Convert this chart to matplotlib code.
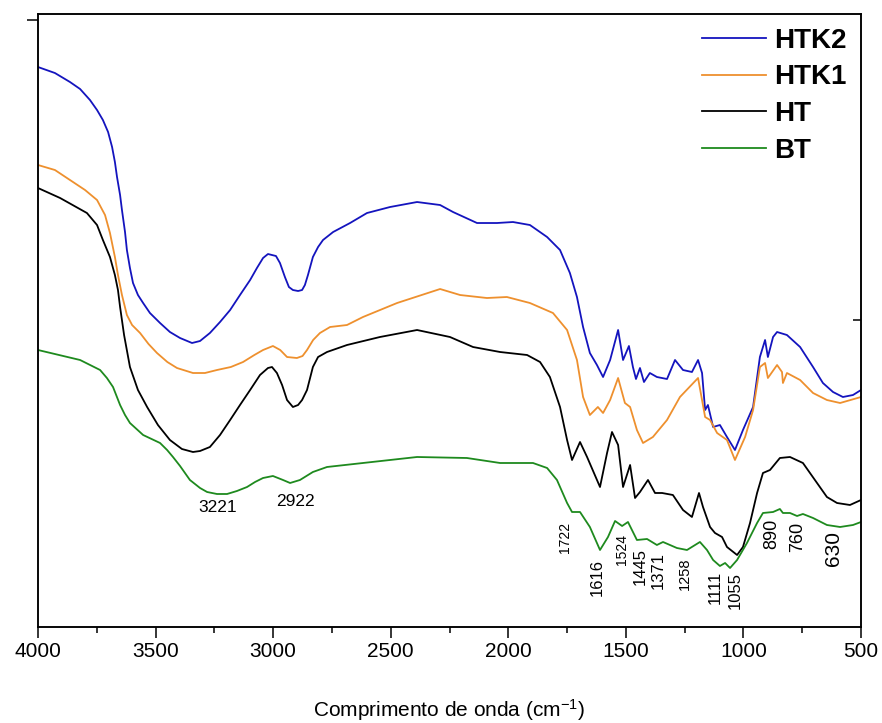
import matplotlib
matplotlib.use("Agg")
import matplotlib.pyplot as plt
from matplotlib.ticker import MultipleLocator

plt.rcParams['font.family'] = ['Liberation Sans', 'DejaVu Sans']
plt.rcParams['mathtext.fontset'] = 'custom'
plt.rcParams['mathtext.rm'] = 'Liberation Sans'
plt.rcParams['mathtext.it'] = 'Liberation Sans:italic'

# FTIR spectra, transmittance in arbitrary units
htk2_wn = [4000, 3928, 3864, 3821, 3779, 3749, 3724, 3702, 3685, 3673, 3664, 3651, 3643, 3630,
           3622, 3609, 3596, 3575, 3553, 3524, 3481, 3439, 3396, 3345, 3311, 3269, 3226, 3183,
           3141, 3098, 3069, 3043, 3022, 3005, 2988, 2971, 2950, 2933, 2916, 2894, 2877, 2865,
           2852, 2831, 2809, 2788, 2745, 2673, 2601, 2503, 2388, 2290, 2235, 2133, 2048, 1980,
           1908, 1835, 1780, 1738, 1708, 1682, 1653, 1623, 1597, 1567, 1533, 1512, 1487, 1470,
           1457, 1440, 1423, 1398, 1368, 1325, 1291, 1257, 1219, 1193, 1176, 1163, 1151, 1129,
           1100, 1070, 1036, 1002, 959, 930, 908, 896, 874, 857, 815, 759, 704, 662, 619, 577,
           534, 500]
htk2_t = [55.3, 54.7, 53.8, 53.1, 52.0, 51.0, 50.0, 48.8, 47.3, 45.8, 44.3, 42.5, 41.0, 38.8,
          37.0, 35.2, 33.7, 32.5, 31.7, 30.7, 29.7, 28.8, 28.2, 27.7, 27.9, 28.7, 29.8, 31.0,
          32.5, 34.0, 35.2, 36.2, 36.6, 36.5, 36.4, 35.7, 34.3, 33.3, 33.0, 32.9, 33.0, 33.5,
          34.5, 36.3, 37.3, 38.0, 38.8, 39.7, 40.7, 41.3, 41.8, 41.5, 40.8, 39.7, 39.7, 39.8,
          39.5, 38.3, 37.0, 34.7, 32.3, 29.3, 26.7, 25.5, 24.3, 26.0, 29.0, 26.0, 27.4, 25.3,
          24.1, 25.2, 23.8, 24.7, 24.3, 24.1, 26.0, 25.0, 24.8, 26.0, 24.7, 21.0, 21.5, 19.3,
          19.5, 18.3, 17.0, 19.0, 21.3, 26.3, 28.0, 26.3, 28.3, 28.8, 28.5, 27.3, 25.3, 23.7,
          22.8, 22.3, 22.5, 23.0]

htk1_wn = [4000, 3928, 3864, 3800, 3749, 3715, 3694, 3673, 3660, 3643, 3622, 3600, 3566, 3530,
           3494, 3450, 3409, 3341, 3290, 3239, 3180, 3128, 3080, 3043, 3001, 2970, 2941, 2899,
           2875, 2856, 2830, 2801, 2758, 2686, 2618, 2473, 2290, 2205, 2091, 2006, 1908, 1810,
           1750, 1708, 1682, 1653, 1619, 1597, 1567, 1533, 1504, 1482, 1453, 1427, 1385, 1325,
           1270, 1193, 1163, 1142, 1112, 1070, 1036, 993, 959, 930, 908, 896, 857, 836, 832,
           815, 759, 704, 645, 589, 500]
htk1_t = [45.5, 45.0, 44.0, 43.0, 42.0, 40.5, 38.7, 36.3, 34.5, 32.5, 30.5, 29.5, 28.7, 27.6,
          26.7, 25.8, 25.2, 24.7, 24.7, 25.0, 25.3, 25.8, 26.5, 27.0, 27.4, 27.0, 26.3, 26.2,
          26.4, 27.0, 28.0, 28.7, 29.3, 29.5, 30.3, 31.7, 33.1, 32.5, 32.2, 32.3, 31.7, 30.7,
          29.0, 26.0, 22.3, 20.5, 21.3, 20.7, 22.0, 24.2, 21.7, 21.3, 19.0, 17.7, 18.3, 20.0,
          22.3, 24.2, 20.3, 20.0, 18.7, 18.0, 16.0, 18.3, 21.0, 25.3, 25.7, 24.2, 25.5, 24.8, 23.7,
          24.7, 24.0, 22.7, 22.0, 21.7, 22.3]

ht_wn = [4000, 3906, 3792, 3749, 3724, 3694, 3673, 3660, 3651, 3634, 3609, 3575, 3536, 3490,
         3439, 3388, 3341, 3311, 3269, 3226, 3183, 3141, 3098, 3056, 3022, 3005, 2984, 2962,
         2941, 2916, 2894, 2877, 2856, 2831, 2809, 2771, 2686, 2546, 2388, 2248, 2150, 2035,
         1920, 1865, 1823, 1780, 1750, 1729, 1695, 1665, 1610, 1580, 1559, 1533, 1512, 1482,
         1461, 1440, 1406, 1376, 1346, 1300, 1257, 1219, 1189, 1172, 1142, 1121, 1091, 1070,
         1027, 1002, 972, 942, 917, 887, 845, 802, 747, 687, 645, 602, 547, 500]
ht_t = [43.2, 42.2, 40.7, 39.5, 38.0, 36.3, 34.5, 33.0, 31.3, 28.5, 25.3, 23.0, 21.3, 19.5,
        18.0, 17.1, 16.8, 16.9, 17.3, 18.5, 20.0, 21.5, 23.0, 24.5, 25.2, 25.3, 24.7, 23.5,
        22.0, 21.3, 21.5, 22.0, 23.0, 25.3, 26.3, 26.8, 27.5, 28.3, 29.0, 28.3, 27.3, 26.8,
        26.5, 25.8, 24.3, 21.3, 18.0, 16.0, 17.8, 16.3, 13.3, 16.7, 18.8, 17.5, 13.3, 15.5,
        12.2, 12.8, 14.0, 12.7, 12.7, 12.5, 11.0, 10.3, 12.7, 11.3, 9.3, 8.7, 8.3, 7.3,
        6.5, 7.3, 9.7, 12.7, 14.7, 15.0, 16.2, 16.3, 15.7, 13.7, 12.3, 11.7, 11.5, 12.0]

bt_wn = [4000, 3821, 3736, 3707, 3681, 3651, 3630, 3609, 3553, 3481, 3451, 3426, 3396, 3354,
         3311, 3281, 3239, 3196, 3154, 3111, 3077, 3043, 3001, 2958, 2928, 2886, 2831, 2771,
         2618, 2388, 2176, 2035, 1895, 1835, 1793, 1750, 1729, 1695, 1653, 1610, 1576, 1546,
         1516, 1491, 1453, 1410, 1368, 1342, 1283, 1240, 1185, 1155, 1129, 1100, 1078, 1057,
         1027, 985, 942, 917, 874, 845, 832, 802, 772, 747, 704, 645, 589, 534, 500]
bt_t = [27.0, 26.0, 25.0, 24.2, 23.3, 21.5, 20.5, 19.7, 18.5, 17.7, 17.0, 16.3, 15.4, 14.0,
        13.2, 12.8, 12.6, 12.6, 12.9, 13.3, 13.8, 14.2, 14.4, 14.0, 13.7, 14.0, 14.8, 15.3,
        15.7, 16.3, 16.2, 15.7, 15.7, 15.2, 14.0, 11.7, 10.8, 10.8, 9.3, 7.0, 8.3, 9.9,
        9.4, 9.8, 8.0, 8.1, 7.5, 7.8, 7.2, 7.0, 7.8, 7.0, 6.0, 5.4, 5.7, 5.2,
        6.0, 7.7, 9.7, 10.7, 10.8, 11.1, 10.7, 10.7, 10.4, 10.6, 10.2, 9.5, 9.3, 9.5, 9.8]

# band labels: text, position (wn, T), rotation, font size
band_labels = ["3221", "2922", "1722", "1616", "1524", "1445", "1371", "1258", "1111", "1055",
               "890", "760", "630"]
band_pos = [(3234, 11.2), (2907, 11.8), (1759, 8.3), (1623, 4.2), (1516, 7.0), (1440, 5.3),
            (1363, 4.9), (1249, 4.6), (1121, 3.3), (1036, 2.9), (878, 8.6), (768, 8.3), (619, 7.1)]
band_rot = [0, 0, 90, 90, 90, 90, 90, 90, 90, 90, 90, 90, 90]
band_size = [12.5, 12.5, 10, 12, 10, 12, 12, 10.5, 12, 12, 13, 13, 15]

fig = plt.figure(figsize=(8.82, 7.23), dpi=100)
ax = fig.add_axes([0.0431, 0.1328, 0.9331, 0.8478])

ax.plot(htk2_wn, htk2_t, color='#1414BE', lw=1.3, label='HTK2')
ax.plot(htk1_wn, htk1_t, color='#EE902E', lw=1.3, label='HTK1')
ax.plot(ht_wn, ht_t, color='black', lw=1.3, label='HT')
ax.plot(bt_wn, bt_t, color='#1E8A1E', lw=1.3, label='BT')

for txt, (x, y), rot, fs in zip(band_labels, band_pos, band_rot, band_size):
    ax.text(x, y, txt, rotation=rot, fontsize=fs, ha='center', va='center')

ax.set_xlim(4000, 500)
ax.set_ylim(-0.7, 60.6)
ax.xaxis.set_major_locator(MultipleLocator(500))
ax.xaxis.set_minor_locator(MultipleLocator(250))
ax.tick_params(axis='x', which='major', direction='out', length=8, width=1.1, labelsize=15, pad=3)
ax.tick_params(axis='x', which='minor', direction='out', length=4.5, width=1.1)
ax.set_yticks([60])
ax.tick_params(axis='y', direction='out', length=8, width=1.1, labelleft=False)

ax2 = ax.twinx()
ax2.set_ylim(ax.get_ylim())
ax2.set_yticks([30])
ax2.tick_params(axis='y', direction='in', length=6, width=1.1, labelright=False)

for a in (ax, ax2):
    for sp in a.spines.values():
        sp.set_linewidth(1.1)

ax.set_xlabel("Comprimento de onda (cm$^{-1}$)", fontsize=15, labelpad=26)

leg = ax.legend(loc='upper right', bbox_to_anchor=(1.0, 1.0), frameon=False,
                prop={'weight': 'bold', 'size': 20}, handlelength=2.3, handletextpad=0.3,
                labelspacing=0.38, borderaxespad=0.1)

fig.savefig("out.png", dpi=100)
